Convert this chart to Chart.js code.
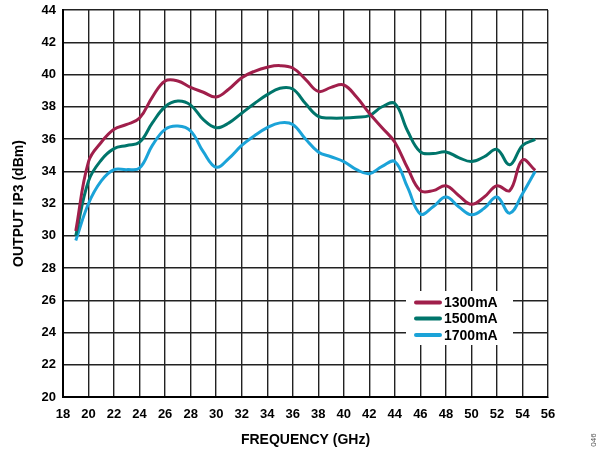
<!DOCTYPE html>
<html>
<head>
<meta charset="utf-8">
<script src="https://cdn.jsdelivr.net/npm/chart.js@4"></script>
<style>
  html, body { margin: 0; padding: 0; background: #fff; }
  #wrap { width: 599px; height: 452px; }
</style>
</head>
<body>
<div id="wrap"><canvas id="graph" width="599" height="452"></canvas></div>
<script>
// frequency points (GHz)
const freq = [19,20,21,22,23,24,25,26,27,28,29,30,31,32,33,34,35,36,37,
              38,39,40,41,42,43,44,45,46,47,48,49,50,51,52,53,54,55];

// output IP3 (dBm) per bias current
const ip3_1300 = [30.3,34.6,35.8,36.6,36.9,37.3,38.6,39.6,39.6,39.2,38.9,38.6,39.1,39.8,40.2,40.45,40.55,40.4,39.7,
                  38.95,39.2,39.35,38.6,37.6,36.7,35.8,34.2,32.8,32.8,33.1,32.5,31.95,32.4,33.1,32.8,34.7,34.05];
const ip3_1500 = [30.0,33.4,34.7,35.4,35.6,35.8,37.0,38.0,38.35,38.1,37.2,36.7,37.0,37.6,38.2,38.75,39.15,39.1,38.2,
                  37.4,37.3,37.3,37.35,37.45,38.0,38.2,36.5,35.2,35.1,35.2,34.85,34.6,34.9,35.35,34.4,35.6,35.97];
const ip3_1700 = [29.7,32.0,33.4,34.1,34.1,34.2,35.6,36.6,36.8,36.5,35.2,34.25,34.8,35.6,36.2,36.7,37.0,36.9,36.0,
                  35.2,34.9,34.6,34.1,33.85,34.3,34.6,33.0,31.35,31.8,32.4,31.8,31.3,31.7,32.4,31.4,32.6,34.0];

const labels = ['1300mA', '1500mA', '1700mA'];
const colors = ['#a01f4b', '#00756b', '#1ba3d8'];

const toPoints = (vals) => freq.map((f, i) => ({ x: f, y: vals[i] }));

const FONT = '"Liberation Sans", Arial, sans-serif';

// legend box drawn inside the plot, white background hides the grid
const boxLegend = {
    id: 'boxLegend',
    afterDatasetsDraw(chart) {
        const c = chart.ctx;
        c.save();
        c.fillStyle = '#fff';
        c.fillRect(406, 291, 107, 54);
        c.font = 'bold 14px ' + FONT;
        c.textBaseline = 'middle';
        const rows = [302.5, 318.5, 335];
        chart.data.datasets.forEach((ds, i) => {
            c.strokeStyle = ds.borderColor;
            c.lineWidth = 4;
            c.lineCap = 'round';
            c.beginPath();
            c.moveTo(416, rows[i]);
            c.lineTo(440, rows[i]);
            c.stroke();
            c.fillStyle = '#000';
            c.fillText(ds.label, 444, rows[i] + 1);
        });
        // figure number
        c.translate(594, 440);
        c.rotate(-Math.PI / 2);
        c.font = '8px ' + FONT;
        c.fillStyle = '#555';
        c.textAlign = 'center';
        c.fillText('046', 0, 0);
        c.restore();
    }
};

const ctx = document.getElementById('graph').getContext('2d');
const ip3Chart = new Chart(ctx, {
    type: 'line',
    data: {
        datasets: [0, 1, 2].map(i => ({
            label: labels[i],
            data: toPoints([ip3_1300, ip3_1500, ip3_1700][i]),
            borderColor: colors[i],
            backgroundColor: colors[i],
            borderWidth: 3,
            pointRadius: 0,
            fill: false,
            tension: 0.4
        }))
    },
    options: {
        responsive: false,
        animation: false,
        layout: { padding: { top: 10, right: 51, left: 0, bottom: 0 } },
        scales: {
            x: {
                type: 'linear',
                min: 18,
                max: 56,
                afterFit: (s) => { s.height = 55; },
                ticks: {
                    stepSize: 2,
                    color: '#000',
                    padding: 10,
                    maxRotation: 0,
                    font: { family: FONT, size: 13, weight: 'bold' }
                },
                grid: { color: '#222', lineWidth: 1.4, tickLength: 0 },
                border: { color: '#000', width: 2 },
                title: {
                    display: true,
                    text: 'FREQUENCY (GHz)',
                    color: '#000',
                    padding: { top: 6, bottom: 3 },
                    font: { family: FONT, size: 14, weight: 'bold' }
                }
            },
            y: {
                min: 20,
                max: 44,
                afterFit: (s) => { s.width = 63; s.paddingTop = 0; s.paddingBottom = 0; },
                ticks: {
                    stepSize: 2,
                    color: '#000',
                    padding: 7,
                    font: { family: FONT, size: 13, weight: 'bold' }
                },
                grid: { color: '#222', lineWidth: 1.4, tickLength: 0 },
                border: { color: '#000', width: 2 },
                title: {
                    display: true,
                    text: 'OUTPUT IP3 (dBm)',
                    color: '#000',
                    padding: { top: 11, bottom: 0 },
                    font: { family: FONT, size: 14, weight: 'bold' }
                }
            }
        },
        plugins: {
            legend: { display: false },
            tooltip: { enabled: false }
        }
    },
    plugins: [boxLegend]
});
</script>
</body>
</html>
